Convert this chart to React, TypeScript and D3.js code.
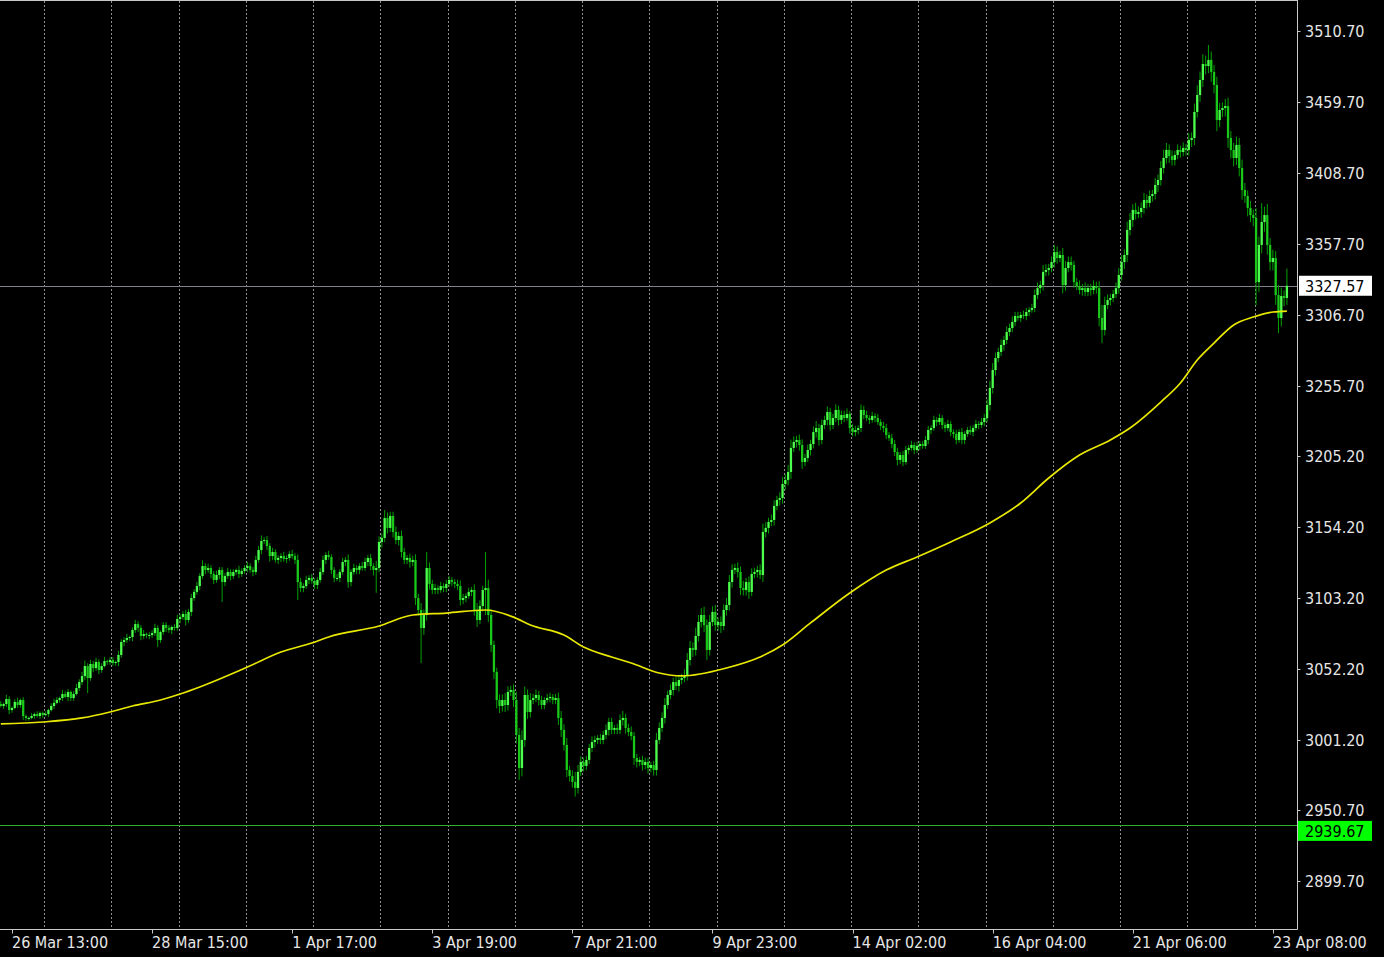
import React, { useEffect } from "react";
import * as d3 from "d3";

// ---- data ----
const firstOpen = 3027.0;

// hourly closes, 460 bars
const closes: number[] = [
  3025.5, 3026.9, 3030.5, 3022.6, 3024.1, 3028.4, 3026.2, 3029.8, 3018.3, 3016.9,
  3016.9, 3018.3, 3019.7, 3018.3, 3020.5, 3019.0, 3019.7, 3022.6, 3025.5, 3027.7,
  3029.8, 3031.2, 3034.1, 3032.0, 3035.6, 3031.2, 3034.1, 3038.4, 3042.7, 3047.0,
  3054.2, 3045.6, 3055.7, 3052.8, 3057.1, 3051.4, 3054.2, 3057.8, 3057.1, 3058.6,
  3056.4, 3057.1, 3062.2, 3071.5, 3072.9, 3074.4, 3075.1, 3080.1, 3084.4, 3081.6,
  3075.8, 3077.2, 3076.5, 3076.5, 3077.9, 3081.6, 3072.9, 3078.7, 3083.7, 3081.6,
  3080.1, 3082.3, 3081.6, 3088.0, 3089.5, 3091.6, 3087.3, 3093.1, 3103.1, 3107.5,
  3111.7, 3118.9, 3126.1, 3123.3, 3124.7, 3120.4, 3116.1, 3119.7, 3123.3, 3114.6,
  3118.9, 3121.8, 3118.9, 3121.8, 3123.3, 3120.4, 3122.5, 3124.7, 3126.1, 3123.3,
  3121.8, 3130.5, 3137.6, 3144.1, 3144.8, 3140.5, 3133.3, 3136.2, 3130.5, 3131.9,
  3133.3, 3131.2, 3131.9, 3134.8, 3133.3, 3130.5, 3114.6, 3110.3, 3111.7, 3116.1,
  3117.5, 3115.4, 3112.5, 3116.1, 3121.8, 3130.5, 3134.0, 3132.6, 3123.3, 3117.5,
  3117.5, 3121.8, 3129.0, 3130.5, 3114.6, 3121.8, 3124.7, 3123.3, 3126.1, 3124.7,
  3129.0, 3131.9, 3126.1, 3123.3, 3124.7, 3143.4, 3146.3, 3160.6, 3153.5, 3162.1,
  3150.6, 3144.8, 3147.7, 3136.2, 3130.5, 3131.9, 3129.0, 3130.5, 3103.1, 3094.5,
  3081.6, 3090.9, 3124.7, 3113.2, 3108.9, 3110.3, 3108.9, 3111.7, 3110.3, 3113.2,
  3116.1, 3114.6, 3113.2, 3111.7, 3101.7, 3103.1, 3104.6, 3107.5, 3108.9, 3094.5,
  3087.3, 3097.4, 3108.9, 3110.3, 3090.9, 3069.4, 3050.0, 3029.8, 3025.5, 3029.8,
  3026.2, 3035.6, 3037.0, 3029.8, 3004.7, 2980.9, 3001.1, 3033.4, 3021.2, 3029.8,
  3031.2, 3033.4, 3029.8, 3026.2, 3029.8, 3031.2, 3032.0, 3029.8, 3031.2, 3016.9,
  3008.3, 2997.5, 2979.5, 2975.2, 2970.9, 2966.6, 2978.1, 2985.3, 2982.4, 2986.7,
  2995.3, 2999.6, 3001.1, 3002.5, 3001.1, 3004.7, 3008.3, 3014.0, 3008.3, 3009.7,
  3008.3, 3015.4, 3016.9, 3009.7, 3006.8, 3003.9, 2988.1, 2985.3, 2986.7, 2983.1,
  2985.3, 2980.9, 2983.1, 2979.5, 3001.1, 3009.7, 3016.9, 3026.2, 3033.4, 3037.0,
  3042.7, 3039.9, 3044.2, 3045.6, 3047.8, 3058.6, 3067.2, 3065.8, 3075.8, 3085.9,
  3090.9, 3083.7, 3065.8, 3085.9, 3093.1, 3083.7, 3085.9, 3083.0, 3094.5, 3098.1,
  3114.6, 3123.3, 3124.7, 3121.8, 3110.3, 3108.9, 3114.6, 3107.5, 3120.4, 3121.8,
  3123.3, 3119.7, 3150.6, 3153.5, 3157.8, 3159.2, 3169.3, 3173.6, 3175.0, 3185.1,
  3188.0, 3193.7, 3211.0, 3215.3, 3216.7, 3213.1, 3200.9, 3203.8, 3209.5, 3213.8,
  3222.4, 3225.3, 3216.7, 3227.5, 3231.1, 3236.8, 3227.5, 3232.5, 3238.3, 3231.1,
  3234.7, 3232.5, 3235.4, 3225.3, 3222.4, 3223.9, 3225.3, 3238.3, 3234.7, 3232.5,
  3231.1, 3234.0, 3232.5, 3229.6, 3226.8, 3225.3, 3220.3, 3218.1, 3213.8, 3208.1,
  3202.4, 3205.9, 3200.9, 3209.5, 3211.0, 3213.1, 3209.5, 3212.4, 3213.8, 3212.4,
  3216.7, 3223.9, 3225.3, 3231.1, 3229.6, 3232.5, 3227.5, 3225.3, 3228.2, 3222.4,
  3221.0, 3216.7, 3222.4, 3216.7, 3221.0, 3223.9, 3222.4, 3225.3, 3228.2, 3227.5,
  3229.6, 3232.5, 3241.9, 3254.1, 3267.0, 3275.6, 3280.0, 3285.0, 3288.6, 3294.3,
  3297.2, 3301.5, 3305.8, 3304.4, 3306.6, 3305.8, 3308.7, 3310.2, 3311.6, 3320.9,
  3325.9, 3328.1, 3337.5, 3338.9, 3340.3, 3344.6, 3351.8, 3347.5, 3349.7, 3328.1,
  3340.3, 3344.6, 3342.5, 3330.2, 3327.4, 3324.5, 3325.9, 3323.1, 3325.9, 3324.5,
  3327.4, 3325.9, 3304.4, 3295.8, 3313.7, 3317.3, 3318.8, 3321.6, 3325.9, 3335.3,
  3344.6, 3349.7, 3367.7, 3374.9, 3382.1, 3379.2, 3380.6, 3383.5, 3389.2, 3387.1,
  3392.1, 3393.5, 3400.0, 3403.6, 3412.2, 3419.4, 3425.2, 3420.8, 3418.0, 3421.6,
  3425.2, 3423.7, 3426.6, 3425.2, 3432.4, 3433.8, 3452.5, 3464.7, 3475.5, 3487.0,
  3485.5, 3489.9, 3481.2, 3471.9, 3446.7, 3453.9, 3455.3, 3456.8, 3433.8, 3425.2,
  3419.4, 3428.8, 3412.2, 3396.4, 3392.1, 3383.5, 3378.4, 3376.3, 3330.2, 3356.9,
  3373.4, 3378.4, 3356.9, 3344.6, 3347.5, 3320.9, 3304.4, 3320.2, 3318.8, 3327.57,
];

// upper wick above the body, per bar (price units)
const upperWicks: number[] = [
  2, 1, 3, 2, 1, 2, 3, 1, 2, 1, 1, 2, 1, 2, 1, 1, 2, 1, 2, 3,
  2, 1, 3, 2, 2, 1, 2, 3, 2, 3, 4, 2, 3, 2, 3, 2, 2, 3, 1, 2,
  2, 1, 3, 2, 2, 3, 1, 2, 3, 2, 2, 3, 1, 2, 2, 3, 2, 1, 2, 2,
  2, 1, 2, 3, 2, 2, 3, 2, 3, 2, 3, 2, 4, 2, 3, 2, 2, 3, 2, 2,
  2, 3, 2, 2, 1, 3, 2, 2, 3, 2, 2, 3, 3, 4, 2, 3, 2, 3, 2, 2,
  2, 3, 2, 2, 3, 2, 4, 3, 2, 3, 2, 3, 2, 2, 3, 3, 2, 3, 2, 2,
  3, 2, 3, 2, 4, 2, 3, 2, 2, 3, 3, 2, 3, 2, 5, 4, 3, 5, 4, 3,
  3, 4, 3, 4, 3, 2, 3, 3, 4, 3, 5, 4, 6, 4, 3, 3, 2, 3, 2, 3,
  3, 2, 2, 3, 4, 3, 2, 3, 2, 4, 5, 4, 3, 5, 6, 4, 3, 3, 4, 4,
  5, 4, 3, 4, 6, 5, 7, 6, 4, 5, 3, 4, 3, 3, 2, 3, 3, 2, 3, 4,
  5, 4, 5, 3, 4, 3, 5, 4, 3, 3, 3, 4, 3, 2, 3, 3, 4, 3, 3, 2,
  3, 4, 5, 3, 3, 4, 3, 3, 2, 3, 3, 3, 2, 3, 5, 4, 4, 5, 3, 4,
  3, 4, 3, 3, 4, 5, 5, 4, 6, 5, 5, 6, 4, 5, 4, 5, 3, 4, 4, 5,
  5, 4, 3, 4, 4, 5, 3, 4, 4, 3, 3, 4, 6, 4, 3, 4, 4, 3, 4, 5,
  4, 5, 6, 4, 3, 4, 4, 3, 4, 3, 4, 5, 3, 4, 3, 4, 3, 3, 4, 3,
  3, 3, 4, 2, 3, 3, 2, 4, 3, 3, 2, 3, 2, 3, 2, 3, 3, 2, 3, 3,
  3, 2, 3, 3, 2, 3, 2, 3, 2, 2, 3, 3, 2, 3, 2, 3, 2, 2, 3, 2,
  2, 3, 2, 3, 2, 2, 3, 2, 3, 2, 3, 3, 4, 5, 5, 4, 3, 4, 3, 4,
  3, 4, 3, 3, 2, 3, 3, 2, 3, 4, 4, 3, 5, 4, 3, 4, 5, 4, 3, 5,
  5, 4, 4, 3, 3, 4, 3, 4, 3, 3, 4, 3, 5, 4, 6, 4, 3, 3, 4, 5,
  5, 4, 6, 5, 4, 5, 4, 4, 5, 4, 4, 3, 5, 4, 5, 6, 5, 4, 4, 3,
  4, 3, 4, 3, 5, 4, 6, 7, 6, 7, 6, 8, 6, 5, 6, 5, 4, 5, 6, 5,
  5, 6, 5, 6, 5, 4, 5, 4, 7, 6, 7, 6, 8, 5, 6, 5, 7, 6, 4, 8,
];

// lower wick below the body, per bar (price units)
const lowerWicks: number[] = [
  1, 2, 2, 3, 2, 1, 2, 2, 3, 2, 2, 1, 2, 1, 2, 2, 1, 2, 1, 2,
  1, 2, 2, 1, 3, 2, 2, 1, 2, 2, 3, 4, 2, 3, 2, 3, 2, 1, 2, 2,
  2, 2, 3, 2, 3, 2, 2, 3, 2, 3, 3, 2, 2, 3, 2, 2, 5, 2, 2, 3,
  2, 3, 2, 2, 3, 2, 4, 2, 3, 2, 2, 3, 2, 3, 2, 3, 3, 2, 3, 4,
  3, 2, 3, 2, 2, 3, 2, 2, 3, 2, 3, 2, 2, 3, 2, 3, 4, 3, 2, 3,
  3, 2, 3, 2, 2, 3, 4, 3, 3, 2, 3, 2, 3, 3, 2, 2, 3, 2, 3, 3,
  2, 3, 2, 3, 4, 3, 2, 3, 3, 2, 2, 3, 3, 4, 4, 3, 4, 3, 4, 3,
  4, 3, 4, 4, 3, 3, 4, 3, 5, 4, 6, 5, 4, 4, 3, 3, 3, 2, 3, 3,
  2, 3, 3, 3, 4, 3, 3, 2, 3, 4, 5, 3, 4, 4, 5, 5, 5, 6, 5, 4,
  5, 4, 3, 5, 6, 6, 6, 5, 5, 4, 3, 3, 4, 3, 3, 2, 3, 3, 3, 5,
  5, 4, 5, 4, 4, 5, 4, 3, 4, 3, 3, 3, 4, 3, 3, 3, 3, 4, 3, 3,
  3, 3, 4, 4, 3, 3, 5, 4, 3, 4, 3, 4, 3, 4, 4, 3, 3, 4, 3, 3,
  4, 3, 4, 3, 3, 4, 4, 5, 4, 4, 4, 5, 6, 4, 3, 4, 4, 5, 3, 4,
  4, 4, 3, 4, 5, 4, 4, 5, 3, 3, 4, 3, 5, 4, 4, 3, 4, 3, 4, 4,
  4, 4, 5, 3, 4, 4, 5, 3, 3, 4, 3, 4, 4, 3, 3, 4, 4, 3, 3, 4,
  3, 3, 2, 4, 3, 3, 3, 3, 3, 2, 3, 2, 3, 2, 3, 3, 3, 2, 3, 3,
  4, 3, 3, 2, 3, 2, 3, 2, 3, 2, 2, 3, 3, 2, 3, 2, 3, 3, 2, 3,
  3, 3, 2, 3, 3, 2, 2, 3, 2, 3, 2, 3, 3, 4, 4, 4, 3, 3, 4, 3,
  3, 3, 3, 2, 3, 2, 3, 3, 2, 3, 3, 4, 4, 3, 4, 3, 4, 4, 3, 6,
  4, 3, 4, 4, 3, 3, 4, 3, 3, 4, 3, 4, 6, 5, 4, 3, 4, 3, 3, 4,
  4, 5, 5, 4, 5, 4, 3, 4, 4, 4, 3, 4, 4, 5, 4, 4, 4, 5, 4, 4,
  3, 4, 3, 4, 4, 5, 5, 4, 5, 5, 6, 5, 7, 6, 8, 5, 5, 6, 7, 6,
  6, 5, 6, 7, 5, 6, 5, 6, 8, 7, 6, 7, 7, 6, 6, 7, 8, 6, 6, 5,
];

// long wick extremes (bar index, high, low)
const spikeBars = [31, 79, 106, 134, 137, 150, 152, 173, 185, 205, 252, 393, 431, 448, 450, 456, 459];
const spikeHigh = [3047.0, 3114.6, 3130.5, 3124.7, 3166.4, 3094.5, 3136.2, 3136.2, 3004.7, 2978.1, 3085.9, 3313.7, 3500.6, 3356.9, 3387.0, 3320.9, 3340.0];
const spikeLow = [3034.8, 3100.3, 3101.7, 3106.9, 3153.5, 3056.4, 3090.9, 3090.9, 2972.3, 2960.4, 3058.6, 3286.4, 3481.2, 3313.7, 3356.9, 3293.6, 3318.8];

// moving average (bar index, value)
const maBars = [0, 15, 29, 39, 47, 57, 64, 71, 88, 100, 111, 117, 135, 147, 159, 173, 183, 189, 201, 208, 218, 225, 235, 243, 259, 271, 279, 289, 303, 316, 327, 339, 353, 364, 374, 385, 396, 403, 414, 421, 427, 433, 440, 447, 454, 459];
const maValues = [3012.6, 3014.0, 3016.9, 3021.2, 3025.5, 3029.8, 3034.1, 3039.2, 3053.5, 3064.3, 3070.8, 3075.1, 3083.0, 3090.9, 3092.3, 3094.5, 3089.4, 3083.7, 3076.5, 3067.9, 3060.7, 3056.4, 3049.2, 3047.1, 3052.8, 3060.7, 3069.3, 3085.2, 3106.7, 3123.2, 3132.6, 3143.4, 3157.1, 3171.4, 3189.4, 3205.9, 3216.7, 3225.3, 3244.0, 3257.7, 3274.2, 3286.4, 3299.4, 3305.1, 3308.7, 3309.4];

const priceTicks = [3510.7, 3459.7, 3408.7, 3357.7, 3306.7, 3255.7, 3205.2, 3154.2, 3103.2, 3052.2, 3001.2, 2950.7, 2899.7];
const timeLabels = ["26 Mar 13:00", "28 Mar 15:00", "1 Apr 17:00", "3 Apr 19:00", "7 Apr 21:00", "9 Apr 23:00", "14 Apr 02:00", "16 Apr 04:00", "21 Apr 06:00", "23 Apr 08:00"];
const timeLabelBars = [4, 54, 104, 154, 204, 254, 304, 354, 404, 454];
const dayStartBars = [15.5, 39.5, 63.5, 87.5, 111.5, 135.5, 159.5, 183.5, 207.5, 231.5, 255.5, 279.5, 303.5, 327.5, 351.5, 375.5, 399.5, 423.5, 447.5];

const bidPrice = 3327.57;
const lowLevel = 2939.67;

// ---- layout ----
const W = 1384;
const H = 957;
const PLOT_R = 1297.5;
const PLOT_B = 929.5;
const FONT = "'DejaVu Sans Condensed', 'DejaVu Sans', sans-serif";
const FS = 16;
const TEXT = "#e6e6e6";
const FRAME = "#c8c8c8";

export default function App() {
  useEffect(() => {
    document.body.style.margin = "0";
    document.body.style.background = "#000";
  }, []);

  const step = 2.802;
  const x = d3.scaleLinear().domain([0, closes.length - 1]).range([0.78, 0.78 + (closes.length - 1) * step]);
  const y = d3.scaleLinear().domain([2899.7, 3510.7]).range([881, 31]);

  const bars = closes.map((c, i) => {
    const o = i === 0 ? firstOpen : closes[i - 1];
    let hi = Math.max(o, c) + upperWicks[i];
    let lo = Math.min(o, c) - lowerWicks[i];
    const k = spikeBars.indexOf(i);
    if (k >= 0) {
      hi = Math.max(hi, spikeHigh[k]);
      lo = Math.min(lo, spikeLow[k]);
    }
    return { i, o, c, hi, lo };
  });

  const maLine = d3
    .line<number>()
    .x((_, k) => x(maBars[k]))
    .y((v) => y(v))
    .curve(d3.curveMonotoneX);

  const bw = 2.3;
  const bidY = y(bidPrice);
  const lowY = y(lowLevel);
  const textStyle = { fontFamily: FONT, fontSize: FS, fontStretch: "condensed" } as React.CSSProperties;

  return (
    <div style={{ position: "fixed", left: 0, top: 0, width: W, height: H, background: "#000" }}>
      <svg width={W} height={H} style={{ display: "block" }}>
        <rect x={0} y={0} width={W} height={H} fill="#000" />
        {/* vertical dotted grid */}
        {dayStartBars.map((b) => (
          <line key={"g" + b} x1={Math.round(x(b)) + 0.5} x2={Math.round(x(b)) + 0.5} y1={1} y2={PLOT_B} stroke="#8f8f8f" strokeWidth={1} strokeDasharray="2 2" />
        ))}
        {/* level lines */}
        <line x1={0} x2={PLOT_R} y1={Math.round(bidY) + 0.5} y2={Math.round(bidY) + 0.5} stroke="#80808e" strokeWidth={1} />
        <line x1={0} x2={PLOT_R} y1={Math.round(lowY) + 0.5} y2={Math.round(lowY) + 0.5} stroke="#2fae2f" strokeWidth={1} />
        {/* candles */}
        {bars.map((b) => {
          const cx = x(b.i);
          const top = y(Math.max(b.o, b.c));
          const bot = y(Math.min(b.o, b.c));
          const bull = b.c >= b.o;
          return (
            <g key={b.i}>
              <line x1={cx} x2={cx} y1={y(b.hi)} y2={y(b.lo)} stroke="#00a000" strokeWidth={1} />
              <rect x={cx - bw / 2} y={top} width={bw} height={Math.max(1, bot - top)} fill={bull ? "#4dff4d" : "#19c819"} />
            </g>
          );
        })}
        {/* moving average */}
        <path d={maLine(maValues) || ""} fill="none" stroke="#e8e800" strokeWidth={1.7} />
        {/* frame */}
        <line x1={0} x2={PLOT_R} y1={0.5} y2={0.5} stroke={FRAME} />
        <line x1={PLOT_R} x2={PLOT_R} y1={0} y2={PLOT_B} stroke={FRAME} />
        <line x1={0} x2={PLOT_R} y1={PLOT_B} y2={PLOT_B} stroke={FRAME} />
        {/* price axis */}
        {priceTicks.map((v) => (
          <g key={"p" + v}>
            <line x1={PLOT_R} x2={PLOT_R + 3} y1={Math.round(y(v)) + 0.5} y2={Math.round(y(v)) + 0.5} stroke={FRAME} />
            <text x={1305} y={y(v) + 6} fill={TEXT} style={textStyle}>
              {v.toFixed(2)}
            </text>
          </g>
        ))}
        {/* bid label */}
        <rect x={1299} y={bidY - 10} width={73} height={20} fill="#ffffff" />
        <text x={1305} y={bidY + 6} fill="#000" style={textStyle}>
          {bidPrice.toFixed(2)}
        </text>
        {/* low level label */}
        <rect x={1298} y={lowY - 4.5} width={74} height={20} fill="#00ff00" />
        <text x={1305} y={lowY + 11.5} fill="#000" style={textStyle}>
          {lowLevel.toFixed(2)}
        </text>
        {/* time axis */}
        {timeLabels.map((t, k) => {
          const tx = x(timeLabelBars[k]);
          return (
            <g key={"t" + k}>
              <line x1={Math.round(tx) + 0.5} x2={Math.round(tx) + 0.5} y1={PLOT_B} y2={PLOT_B + 4} stroke={FRAME} />
              <text x={tx} y={948} fill={TEXT} style={textStyle}>
                {t}
              </text>
            </g>
          );
        })}
      </svg>
    </div>
  );
}
